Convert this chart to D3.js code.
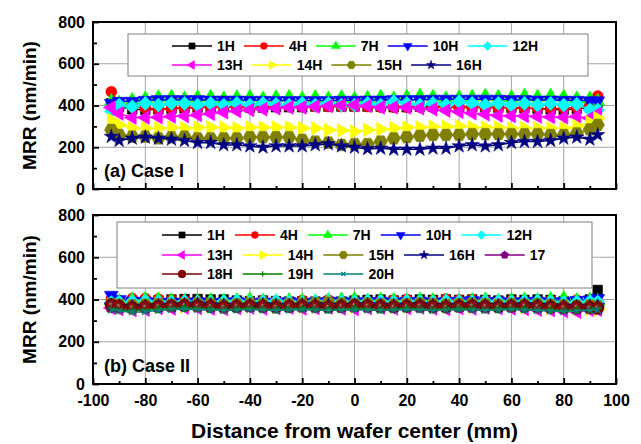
<!DOCTYPE html>
<html>
<head>
<meta charset="utf-8">
<script src="https://cdn.jsdelivr.net/npm/d3@7"></script>
<style>
  body { margin: 0; background: #fff; }
  text { font-family: "Liberation Sans", Arial, sans-serif; font-weight: bold; fill: #000; }
</style>
</head>
<body>
<svg id="chart" width="641" height="444"></svg>
<script>
// positions along the wafer (mm)
var xPos = [-93,-90,-85,-80,-75,-70,-65,-60,-55,-50,-45,-40,-35,-30,-25,-20,-15,-10,-5,0,5,10,15,20,25,30,35,40,45,50,55,60,65,70,75,80,85,90,93];
var xTicks = [-100,-80,-60,-40,-20,0,20,40,60,80,100];
var xMinor = [-90,-70,-50,-30,-10,10,30,50,70,90];
var yTicks = [0,200,400,600,800];
var yMinor = [100,300,500,700];

// Case I series (nm/min)
var caseINames = ["1H","4H","7H","10H","12H","13H","14H","15H","16H"];
var caseI_1H  = [410,395,382,380,382,385,388,390,392,392,392,390,390,392,392,392,395,395,395,395,395,395,392,392,395,395,392,392,392,392,390,390,388,385,382,380,385,390,400];
var caseI_4H  = [466,410,395,388,382,385,390,392,392,392,392,392,392,395,395,395,395,395,395,395,395,392,392,392,392,392,392,390,390,390,390,388,387,387,385,387,390,400,445];
var caseI_7H  = [420,412,425,432,438,440,432,438,440,432,438,440,432,438,440,432,438,432,438,430,435,440,432,440,445,440,432,438,440,445,440,438,445,440,445,440,432,432,420];
var caseI_10H = [410,420,420,425,428,428,428,428,426,426,426,425,425,424,424,424,424,424,425,425,426,426,428,428,428,430,430,430,430,430,430,428,428,426,426,425,425,423,422];
var caseI_12H = [372,402,394,410,402,410,410,402,410,402,410,402,410,406,402,410,402,410,402,402,410,402,418,410,402,410,402,418,410,402,410,402,410,402,410,402,406,379,379];
var caseI_13H = [391,362,342,342,344,347,350,355,360,368,374,379,382,387,391,391,395,398,401,402,398,391,391,391,387,382,376,370,363,358,352,350,350,347,345,344,347,339,360];
var caseI_14H = [331,307,291,291,291,295,291,295,295,295,291,295,295,295,295,291,291,283,280,275,283,286,291,295,295,298,298,302,295,295,295,291,291,291,291,291,302,318,339];
var caseI_15H = [283,259,251,251,243,248,251,243,243,243,243,248,248,248,248,235,227,222,211,215,215,227,243,248,255,259,259,259,263,263,263,263,263,263,259,259,267,286,307];
var caseI_16H = [251,232,243,248,243,238,232,222,222,211,211,206,200,206,206,206,211,216,206,200,192,195,190,190,190,195,195,206,211,206,211,222,227,227,232,243,248,238,259];

// Case II series (nm/min)
var caseIINames = ["1H","4H","7H","10H","12H","13H","14H","15H","16H","17","18H","19H","20H"];
var caseII_1H  = [390,385,385,390,395,400,402,402,400,400,395,392,395,392,390,392,390,392,390,395,398,400,395,398,400,398,400,398,400,398,395,400,398,400,398,392,390,400,445];
var caseII_4H  = [400,395,405,405,402,398,395,392,390,388,390,392,395,392,390,395,390,398,392,388,392,395,398,400,392,395,402,398,400,395,392,395,390,388,395,392,398,390,385];
var caseII_7H  = [395,390,398,400,398,395,392,390,395,392,395,398,392,390,395,392,390,395,398,400,392,398,395,392,398,395,392,390,395,398,392,395,398,395,400,405,395,398,392];
var caseII_10H = [420,400,392,390,385,388,385,390,385,388,390,385,388,386,390,385,388,390,392,388,390,392,388,390,392,388,390,392,395,390,392,388,390,392,388,390,395,398,405];
var caseII_12H = [385,388,390,392,388,385,390,388,385,390,392,388,390,392,388,385,390,392,390,388,392,390,388,392,390,388,392,390,388,392,390,388,390,392,388,385,388,390,388];
var caseII_13H = [360,355,350,352,360,358,362,360,358,355,360,362,358,360,362,358,360,362,358,355,360,362,358,360,362,358,355,360,358,362,360,358,355,352,350,345,342,350,352];
var caseII_14H = [375,370,368,365,370,372,368,370,372,368,370,372,370,368,372,370,368,372,370,368,372,370,368,370,372,368,370,372,370,368,372,370,368,365,362,360,358,355,352];
var caseII_15H = [378,375,372,375,378,375,378,380,378,375,378,380,378,375,378,380,382,385,380,378,380,378,375,378,380,378,375,378,380,378,375,378,376,378,375,372,370,372,368];
var caseII_16H = [372,368,365,368,370,372,375,378,375,372,370,372,375,372,370,372,375,372,370,372,375,372,370,372,375,372,370,372,375,372,370,372,375,372,370,368,365,368,370];
var caseII_17  = [365,362,360,362,365,368,370,368,365,362,365,368,365,362,365,368,365,362,365,368,365,362,365,368,365,362,365,368,365,362,365,368,365,362,360,358,355,358,355];
var caseII_18H = [375,368,362,365,368,370,372,370,368,365,368,370,368,365,368,370,368,365,368,372,370,368,365,368,370,368,365,368,370,368,365,368,370,368,365,362,365,362,360];
var caseII_19H = [355,350,348,352,355,358,360,358,355,352,355,358,355,352,355,358,355,352,355,358,355,352,355,358,355,352,355,358,355,352,355,358,355,352,350,348,350,352,355];
var caseII_20H = [350,345,340,342,348,352,355,352,350,348,350,352,350,348,350,352,350,348,350,352,350,348,350,352,350,348,350,352,350,348,350,352,350,348,345,342,345,348,350];

var caseIValues  = [caseI_1H, caseI_4H, caseI_7H, caseI_10H, caseI_12H, caseI_13H, caseI_14H, caseI_15H, caseI_16H];
var caseIIValues = [caseII_1H, caseII_4H, caseII_7H, caseII_10H, caseII_12H, caseII_13H, caseII_14H, caseII_15H, caseII_16H, caseII_17, caseII_18H, caseII_19H, caseII_20H];

// marker styles per series name
function poly(n, rot) {
  return { draw: function(ctx, size) {
    var r = Math.sqrt(2 * size / (n * Math.sin(2 * Math.PI / n)));
    for (var i = 0; i < n; i++) {
      var a = rot + i * 2 * Math.PI / n;
      if (i == 0) ctx.moveTo(r * Math.cos(a), r * Math.sin(a));
      else ctx.lineTo(r * Math.cos(a), r * Math.sin(a));
    }
    ctx.closePath();
  }};
}
var plusSym = { draw: function(ctx, size) { var r = Math.sqrt(size) / 2;
  ctx.moveTo(-r, 0); ctx.lineTo(r, 0); ctx.moveTo(0, -r); ctx.lineTo(0, r); } };
var timesSym = { draw: function(ctx, size) { var r = Math.sqrt(size) / 2.6;
  ctx.moveTo(-r, -r); ctx.lineTo(r, r); ctx.moveTo(-r, r); ctx.lineTo(r, -r); } };

var styles = {
  "1H":  { color: "#000000", type: d3.symbolSquare, size: 95 },
  "4H":  { color: "#ff0000", type: d3.symbolCircle, size: 95 },
  "7H":  { color: "#00ff00", type: poly(3, -Math.PI / 2), size: 85 },
  "10H": { color: "#0000ff", type: poly(3, Math.PI / 2), size: 85 },
  "12H": { color: "#00ffff", type: poly(4, -Math.PI / 2), size: 100 },
  "13H": { color: "#ff00ff", type: poly(3, Math.PI), size: 85 },
  "14H": { color: "#ffff00", type: poly(3, 0), size: 85 },
  "15H": { color: "#808000", type: poly(6, 0), size: 120 },
  "16H": { color: "#000080", type: d3.symbolStar, size: 65 },
  "17":  { color: "#800080", type: poly(5, -Math.PI / 2), size: 100 },
  "18H": { color: "#800000", type: d3.symbolCircle, size: 120, sphere: true },
  "19H": { color: "#008000", type: plusSym, size: 70, stroke: true },
  "20H": { color: "#008080", type: timesSym, size: 70, stroke: true }
};

var svg = d3.select("#chart");
var defs = svg.append("defs");
var grad = defs.append("radialGradient").attr("id", "sphere")
  .attr("cx", "0.5").attr("cy", "0.5").attr("r", "0.5").attr("fx", "0.42").attr("fy", "0.4");
grad.append("stop").attr("offset", "0").attr("stop-color", "#b89090");
grad.append("stop").attr("offset", "0.3").attr("stop-color", "#8c1414");
grad.append("stop").attr("offset", "1").attr("stop-color", "#6a0000");

var left = 93, right = 616;
var x = d3.scaleLinear().domain([-100, 100]).range([left, right]);

function marker(sel, name, scale) {
  var st = styles[name];
  sel.attr("d", d3.symbol().type(st.type).size(st.size * scale)());
  if (st.stroke) sel.attr("fill", "none").attr("stroke", st.color).attr("stroke-width", 1.2);
  else if (st.sphere && scale == 1) sel.attr("fill", "url(#sphere)").attr("stroke", "#700000").attr("stroke-width", 0.5);
  else sel.attr("fill", st.color).attr("stroke", st.color).attr("stroke-width", 0.5);
}

function drawPanel(cfg) {
  var y = d3.scaleLinear().domain([0, 800]).range([cfg.bottom, cfg.top]);
  var g = svg.append("g");

  // grid
  g.selectAll(".gx").data(xTicks.slice(1, -1)).enter().append("line")
    .attr("x1", function(d) { return x(d); }).attr("x2", function(d) { return x(d); })
    .attr("y1", cfg.top).attr("y2", cfg.bottom)
    .attr("stroke", "#a6a6a6").attr("stroke-width", 1);
  g.selectAll(".gy").data(yTicks.slice(1, -1)).enter().append("line")
    .attr("x1", left).attr("x2", right)
    .attr("y1", function(d) { return y(d); }).attr("y2", function(d) { return y(d); })
    .attr("stroke", "#a6a6a6").attr("stroke-width", 1);

  // axes (ticks inward)
  var ya = g.append("g").attr("transform", "translate(" + left + ",0)")
    .call(d3.axisLeft(y).tickValues(yTicks).tickSize(-6).tickPadding(8));
  var ym = g.append("g").attr("transform", "translate(" + left + ",0)")
    .call(d3.axisLeft(y).tickValues(yMinor).tickSize(-4).tickFormat(""));
  var xa = g.append("g").attr("transform", "translate(0," + cfg.bottom + ")")
    .call(d3.axisBottom(x).tickValues(xTicks).tickSize(-6).tickPadding(11)
      .tickFormat(cfg.xLabels ? d3.format("d") : ""));
  var xm = g.append("g").attr("transform", "translate(0," + cfg.bottom + ")")
    .call(d3.axisBottom(x).tickValues(xMinor).tickSize(-3).tickFormat(""));
  [ya, ym, xa, xm].forEach(function(a) {
    a.select(".domain").remove();
    a.selectAll(".tick line").attr("stroke", "#000").attr("stroke-width", 1.8);
    a.selectAll("text").attr("font-size", 16).attr("font-family", null);
  });
  xa.selectAll("text").text(function(d) { return d3.format("d")(d).replace("−", "-"); });
  if (!cfg.xLabels) xa.selectAll("text").remove();

  // series
  cfg.names.forEach(function(name, i) {
    var vals = cfg.values[i];
    var st = styles[name];
    var pts = xPos.map(function(p, j) { return [p, vals[j]]; });
    g.append("path").datum(pts)
      .attr("fill", "none").attr("stroke", st.color).attr("stroke-width", 1.5)
      .attr("d", d3.line().x(function(d) { return x(d[0]); }).y(function(d) { return y(d[1]); }));
    g.selectAll(".m" + i).data(pts).enter().append("path")
      .attr("transform", function(d) { return "translate(" + x(d[0]) + "," + y(d[1]) + ")"; })
      .each(function() { marker(d3.select(this), name, 1); });
  });

  // frame
  g.append("rect").attr("x", left).attr("y", cfg.top)
    .attr("width", right - left).attr("height", cfg.bottom - cfg.top)
    .attr("fill", "none").attr("stroke", "#000").attr("stroke-width", 2);

  // legend
  var L = cfg.legend;
  g.append("rect").attr("x", L.x).attr("y", L.y).attr("width", L.w).attr("height", L.h)
    .attr("fill", "#fff").attr("stroke", "#808080").attr("stroke-width", 1);
  var k = 0;
  L.rows.forEach(function(rowLen, r) {
    var cx = L.startX, cy = L.rowY[r];
    for (var c = 0; c < rowLen; c++, k++) {
      var name = cfg.names[k], st = styles[name];
      g.append("line").attr("x1", cx).attr("x2", cx + 40).attr("y1", cy).attr("y2", cy)
        .attr("stroke", st.color).attr("stroke-width", 1.5);
      g.append("path").attr("transform", "translate(" + (cx + 20) + "," + cy + ")")
        .call(function(s) { marker(s, name, 0.4); });
      var t = g.append("text").attr("x", cx + 45).attr("y", cy + 5)
        .attr("font-size", 14).text(name);
      cx = cx + 45 + t.node().getComputedTextLength() + L.gap;
    }
  });

  // panel label
  g.append("text").attr("x", 104).attr("y", cfg.bottom - 12)
    .attr("font-size", 18).text(cfg.label);

  // y title
  g.append("text").attr("transform", "translate(36," + ((cfg.top + cfg.bottom) / 2) + ") rotate(-90)")
    .attr("text-anchor", "middle").attr("font-size", 19).text("MRR (nm/min)");
}

drawPanel({
  top: 22, bottom: 189, names: caseINames, values: caseIValues, label: "(a) Case I", xLabels: false,
  legend: { x: 128, y: 34, w: 460, h: 42, startX: 172, rowY: [46, 65], rows: [5, 4], gap: 9 }
});
drawPanel({
  top: 215, bottom: 384, names: caseIINames, values: caseIIValues, label: "(b) Case II", xLabels: true,
  legend: { x: 117, y: 222, w: 475, h: 66, startX: 162, rowY: [235, 255, 274], rows: [5, 5, 3], gap: 10 }
});

svg.append("text").attr("x", (left + right) / 2).attr("y", 438)
  .attr("text-anchor", "middle").attr("font-size", 21).text("Distance from wafer center (mm)");
</script>
</body>
</html>
